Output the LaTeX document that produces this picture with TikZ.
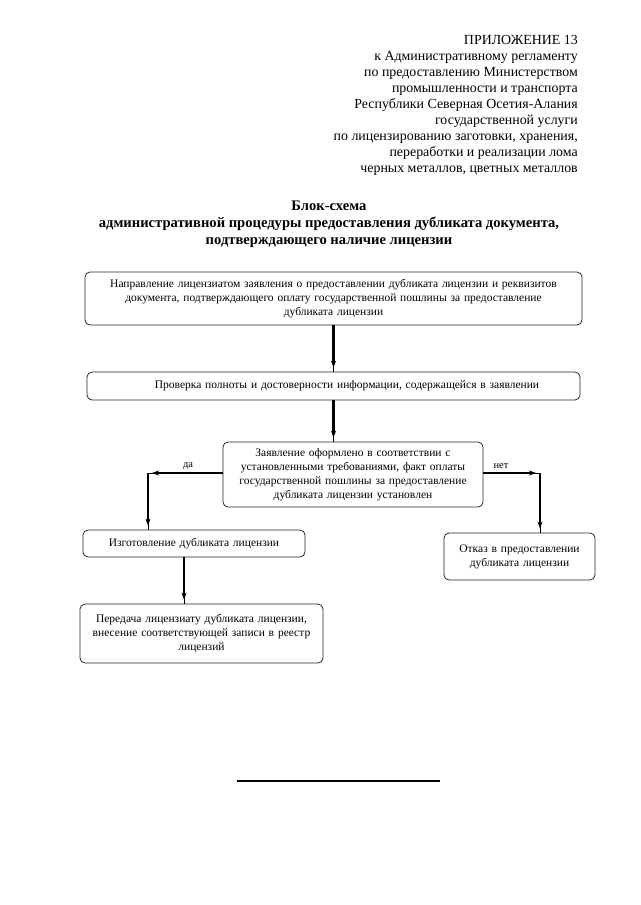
\documentclass[tikz,border=0pt]{standalone}
\usepackage{fontspec}
\setmainfont{Liberation Serif}
\usetikzlibrary{arrows.meta}
\tikzset{
  box/.style={draw=black!85, line width=0.8pt, rounded corners=5pt, align=center, inner sep=2pt,
    font=\fontsize{11.5}{14}\selectfont},
  lbl/.style={font=\fontsize{10.5}{12}\selectfont, inner sep=0pt},
  thinln/.style={line width=0.8pt, draw=black},
  thickarr/.style={line width=2.3pt, draw=black, shorten >=4pt, -{Stealth[length=7pt,width=5pt]}},
}
\newcommand\myconn[2]{\draw[thinln] (#1) -- (#2); \draw[thickarr] (#1) -- (#2);}
\begin{document}
\begin{tikzpicture}[x=1pt,y=-1pt]
\useasboundingbox (0,0) rectangle (640,905);
% header
\node[anchor=north east, align=right, inner sep=0pt, font=\fontsize{13.9}{16}\selectfont] (hdr) at (578,35.3)
 {ПРИЛОЖЕНИЕ 13\\к Административному регламенту\\по предоставлению Министерством\\промышленности и транспорта\\Республики Северная Осетия-Алания\\государственной услуги\\по лицензированию заготовки, хранения,\\переработки и реализации лома\\черных металлов, цветных металлов};
% title
\node[anchor=north, align=center, inner sep=0pt, font=\bfseries\fontsize{14.6}{16.7}\selectfont] (ttl) at (329,201)
 {Блок-схема\\административной процедуры предоставления дубликата документа,\\подтверждающего наличие лицензии};
% boxes
\node[box, minimum width=497pt, minimum height=53pt, text width=485pt] (b1) at (333.5,298.5)
 {Направление лицензиатом заявления о предоставлении дубликата лицензии и реквизитов\\документа, подтверждающего оплату государственной пошлины за предоставление\\дубликата лицензии};
\node[box, minimum width=493pt, minimum height=28pt, text width=480pt] (b2) at (333.5,386)
 {\hspace*{27pt}Проверка полноты и достоверности информации, содержащейся в заявлении};
\node[box, minimum width=260pt, minimum height=65pt, text width=250pt] (b3) at (353,474.5)
 {Заявление оформлено в соответствии с\\установленными требованиями, факт оплаты\\государственной пошлины за предоставление\\дубликата лицензии установлен};
\node[box, minimum width=222pt, minimum height=27pt, text width=212pt] (b4) at (194,543.5)
 {Изготовление дубликата лицензии};
\node[box, minimum width=243pt, minimum height=59pt, text width=233pt] (b5) at (201.5,633.5)
 {Передача лицензиату дубликата лицензии,\\внесение соответствующей записи в реестр\\лицензий};
\node[box, minimum width=151pt, minimum height=47pt, text width=145pt] (b6) at (519.5,556.5)
 {Отказ в предоставлении\\дубликата лицензии};
% connectors
\coordinate (cL) at (148,473);
\coordinate (cR) at (540,473);
\coordinate (c45) at (184,557);
\myconn{b1.south}{b1.south |- b2.north}
\myconn{b2.south}{b2.south |- b3.north}
\myconn{b3.west |- cL}{cL}
\myconn{cL}{cL |- b4.north}
\myconn{b3.east |- cR}{cR}
\myconn{cR}{cR |- b6.north}
\myconn{c45}{c45 |- b5.north}
\node[lbl] (da) at (188,466) {да};
\node[lbl] (net) at (501,466) {нет};
% bottom rule
\draw[line width=1.5pt] (237,781) -- (440,781);
\end{tikzpicture}
\end{document}
